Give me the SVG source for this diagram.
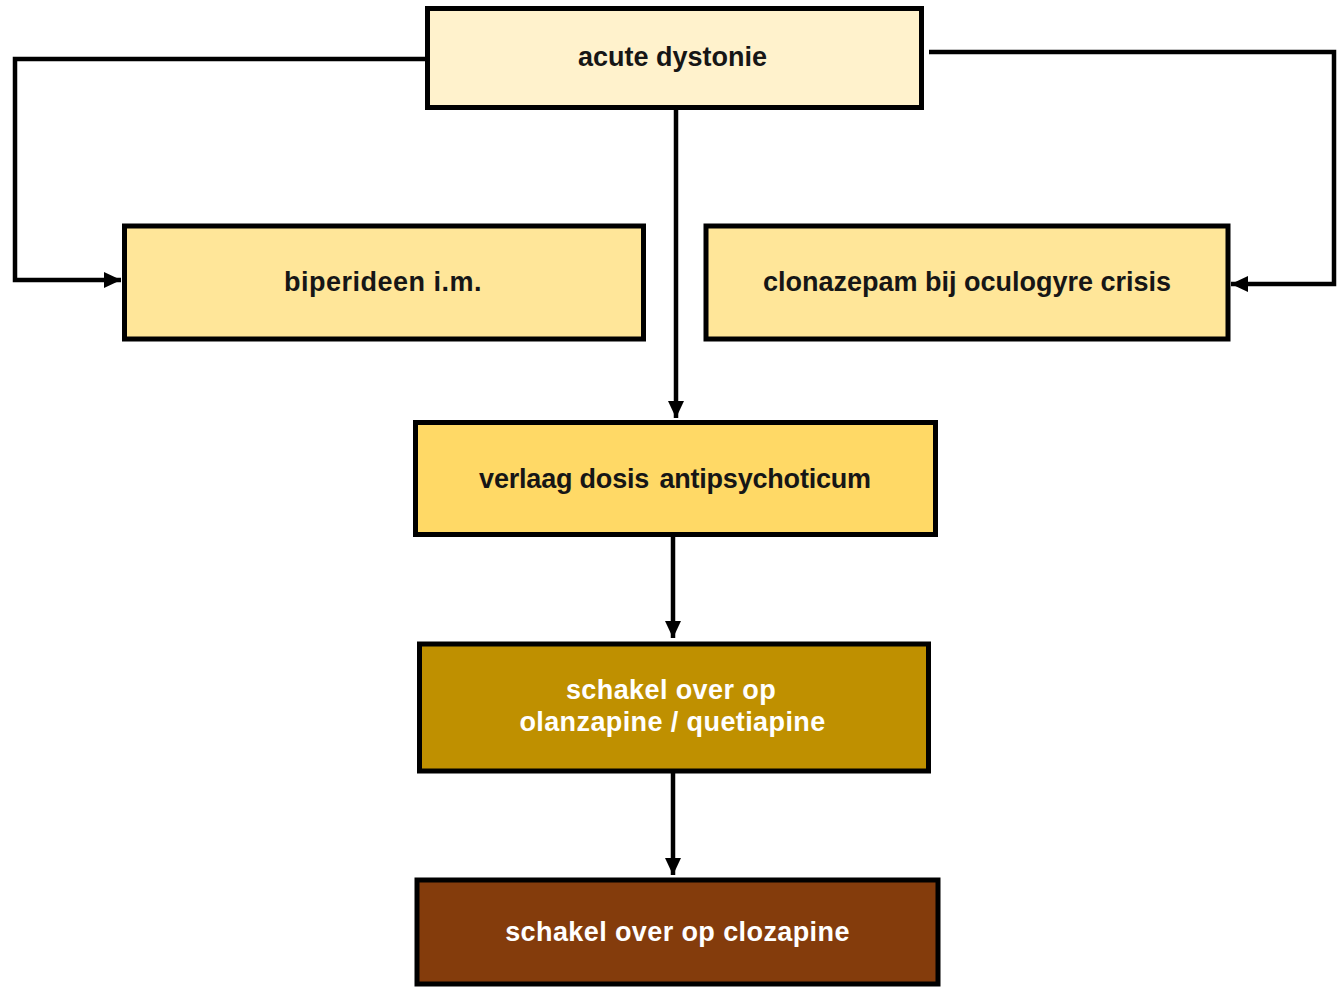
<svg xmlns="http://www.w3.org/2000/svg" width="1337" height="988" viewBox="0 0 1337 988">
<style>
.box{stroke:#000;stroke-width:5}
.lbl{font-family:"Liberation Sans",Arial,sans-serif;font-weight:bold;font-size:27px;text-anchor:middle;fill:#161616}
.wl{fill:#FFFFFF;letter-spacing:0.4px}
.con{fill:none;stroke:#000;stroke-width:4.5}
</style>
<defs>
<marker id="ah" markerUnits="userSpaceOnUse" markerWidth="18" markerHeight="18" viewBox="0 0 18 18" refX="17" refY="9" orient="auto">
<path d="M0,1 L17,9 L0,17 Z" fill="#000"/>
</marker>
</defs>
<rect width="1337" height="988" fill="#FFFFFF"/>
<g id="connectors">
<path class="con" d="M425,59 H15 V280 H121" marker-end="url(#ah)"/>
<path class="con" d="M929,52 H1334 V284 H1231" marker-end="url(#ah)"/>
<path class="con" d="M676,110 V418" marker-end="url(#ah)"/>
<path class="con" d="M673,537 V638" marker-end="url(#ah)"/>
<path class="con" d="M673,773 V875" marker-end="url(#ah)"/>
</g>
<g id="n1">
<rect class="box" x="427.5" y="8.5" width="494" height="99" fill="#FFF2CC"/>
<text class="lbl" x="672.5" y="66">acute dystonie</text>
</g>
<g id="n2">
<rect class="box" x="124.5" y="226" width="519" height="113" fill="#FFE699"/>
<text class="lbl" x="383" y="291" letter-spacing="0.5">biperideen i.m.</text>
</g>
<g id="n3">
<rect class="box" x="706" y="226" width="522" height="113" fill="#FFE699"/>
<text class="lbl" x="967" y="291">clonazepam bij oculogyre crisis</text>
</g>
<g id="n4">
<rect class="box" x="415.5" y="422.5" width="520" height="112" fill="#FFD966"/>
<text class="lbl" x="675" y="488" letter-spacing="-0.2">verlaag dosis <tspan dx="3">antipsychoticum</tspan></text>
</g>
<g id="n5">
<rect class="box" x="419.5" y="644" width="509" height="127" fill="#BF9000"/>
<text class="lbl wl" x="671" y="699">schakel over op</text>
<text class="lbl wl" x="672.5" y="731">olanzapine / quetiapine</text>
</g>
<g id="n6">
<rect class="box" x="417" y="880" width="521" height="104" fill="#843C0C"/>
<text class="lbl wl" x="677.5" y="941">schakel over op clozapine</text>
</g>
</svg>
